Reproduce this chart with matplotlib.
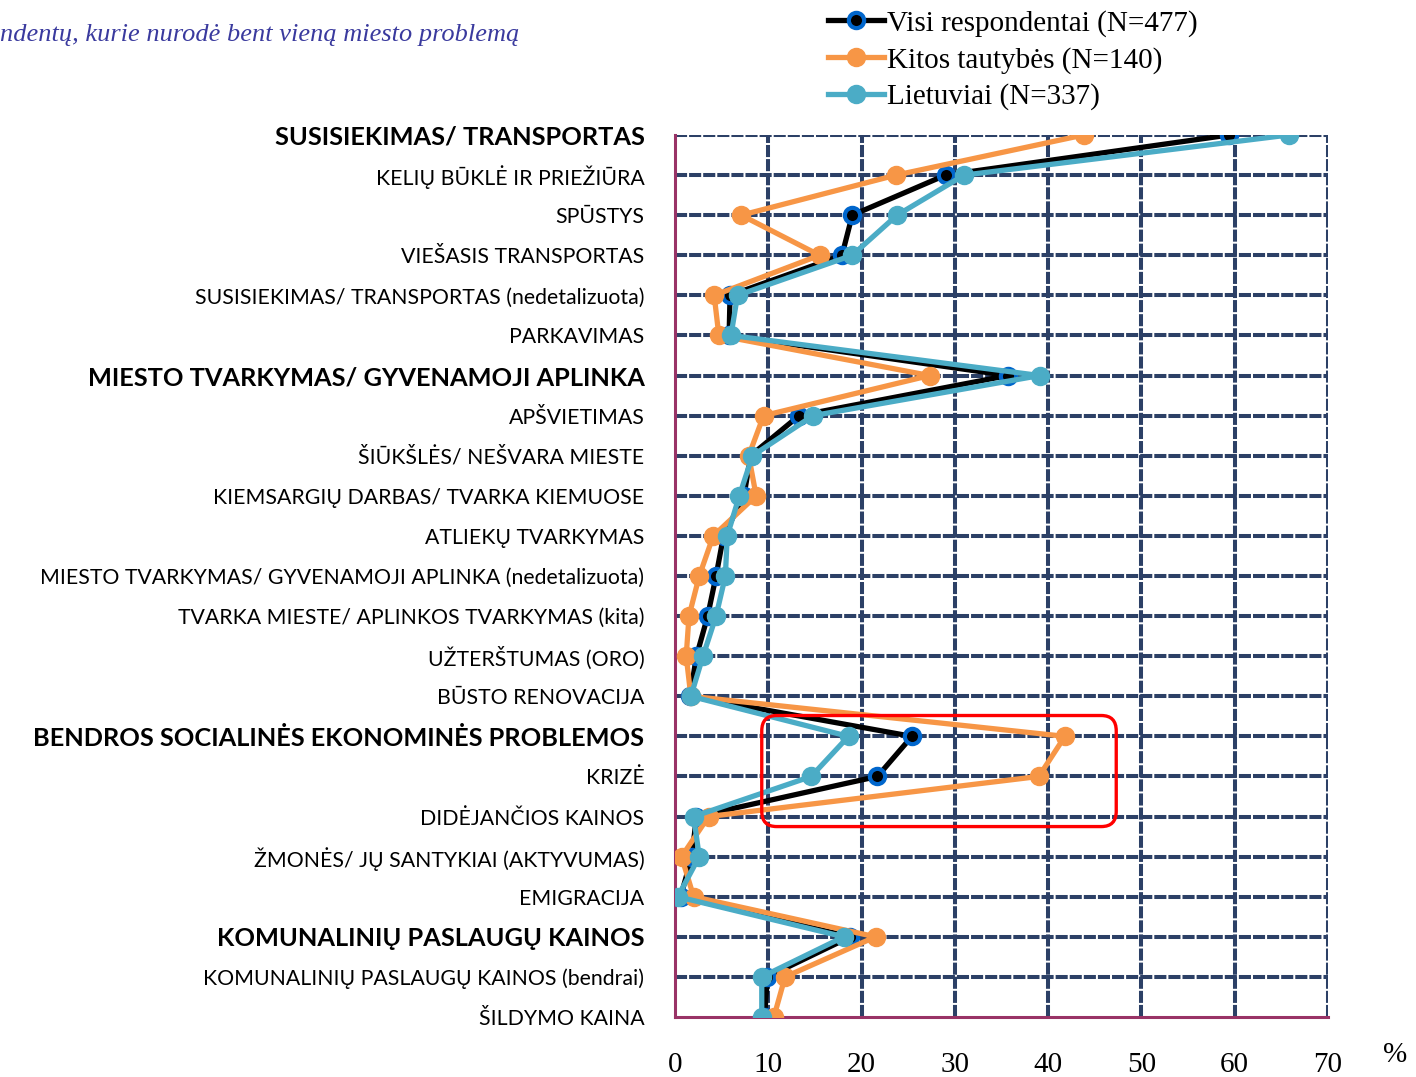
import matplotlib
matplotlib.use("Agg")
import matplotlib.pyplot as plt
from matplotlib.patches import FancyBboxPatch
from matplotlib.lines import Line2D
import numpy as np

categories = [
    "SUSISIEKIMAS/ TRANSPORTAS",
    "KELIŲ BŪKLĖ IR PRIEŽIŪRA",
    "SPŪSTYS",
    "VIEŠASIS TRANSPORTAS",
    "SUSISIEKIMAS/ TRANSPORTAS (nedetalizuota)",
    "PARKAVIMAS",
    "MIESTO TVARKYMAS/ GYVENAMOJI APLINKA",
    "APŠVIETIMAS",
    "ŠIŪKŠLĖS/ NEŠVARA MIESTE",
    "KIEMSARGIŲ DARBAS/ TVARKA KIEMUOSE",
    "ATLIEKŲ TVARKYMAS",
    "MIESTO TVARKYMAS/ GYVENAMOJI APLINKA (nedetalizuota)",
    "TVARKA MIESTE/ APLINKOS TVARKYMAS (kita)",
    "UŽTERŠTUMAS (ORO)",
    "BŪSTO RENOVACIJA",
    "BENDROS SOCIALINĖS EKONOMINĖS PROBLEMOS",
    "KRIZĖ",
    "DIDĖJANČIOS KAINOS",
    "ŽMONĖS/ JŲ SANTYKIAI (AKTYVUMAS)",
    "EMIGRACIJA",
    "KOMUNALINIŲ PASLAUGŲ KAINOS",
    "KOMUNALINIŲ PASLAUGŲ KAINOS (bendrai)",
    "ŠILDYMO KAINA",
]
headings = [0, 6, 15, 20]

visi = [59.4, 29.0, 19.0, 17.9, 5.9, 5.8, 35.7, 13.3, 8.1, 7.4, 5.2, 4.4, 3.5, 2.3,
        1.6, 25.4, 21.7, 2.3, 1.8, 0.6, 18.8, 9.9, 9.6]
kitos = [43.8, 23.7, 7.1, 15.5, 4.2, 4.7, 27.3, 9.5, 7.9, 8.7, 4.1, 2.6, 1.5, 1.2,
         1.7, 41.8, 39.0, 3.6, 0.7, 2.0, 21.5, 11.8, 10.6]
lietuviai = [65.8, 31.0, 23.8, 19.0, 6.7, 6.0, 39.1, 14.8, 8.3, 6.9, 5.6, 5.4, 4.4, 3.0,
             1.7, 18.6, 14.6, 2.0, 2.6, 0.3, 18.1, 9.3, 9.3]

series_names = ["Visi respondentai (N=477)", "Kitos tautybės (N=140)", "Lietuviai (N=337)"]
xticks = [0, 10, 20, 30, 40, 50, 60, 70]

grid_col = "#2C4066"
spine_col = "#993366"
orange = "#F79646"
teal = "#4BACC6"

fig = plt.figure(figsize=(14.16, 10.77), dpi=100)
ax = fig.add_axes([675 / 1416, 1 - 1017 / 1077, (1328 - 675) / 1416, (1017 - 135) / 1077])

y = np.arange(len(categories))

ax.plot(visi, y, color="black", lw=3.8, marker="o", ms=11, mfc="black",
        mec="#0066CC", mew=3.0, zorder=4, label=series_names[0])
ax.plot(kitos, y, color=orange, lw=3.8, marker="o", ms=13, mfc=orange,
        mec=orange, zorder=5, label=series_names[1])
ax.plot(lietuviai, y, color=teal, lw=3.8, marker="o", ms=13, mfc=teal,
        mec=teal, zorder=6, label=series_names[2])

ax.set_xlim(0, 70)
ax.set_ylim(len(categories) - 1, 0)

# grid
for xv in xticks[1:]:
    ax.axvline(xv, color=grid_col, lw=2.9, ls=(0, (3, 0.5)), zorder=1)
for yv in y[:-1]:
    ax.axhline(yv, color=grid_col, lw=2.9, ls=(0, (3, 0.5)), zorder=1)

for s in ["top", "right"]:
    ax.spines[s].set_visible(False)
for s in ["left", "bottom"]:
    ax.spines[s].set_color(spine_col)
    ax.spines[s].set_linewidth(2.2)
    ax.spines[s].set_zorder(2)

ax.set_xticks(xticks)
ax.set_xticklabels([str(v) for v in xticks], family="Liberation Serif", fontsize=21)
ax.tick_params(axis="x", length=0, pad=25)
ax.set_yticks(y)
ax.set_yticklabels(categories, family="Lato")
ax.tick_params(axis="y", length=0, pad=22)
for i, lab in enumerate(ax.get_yticklabels()):
    if i in headings:
        lab.set_fontweight("bold")
        lab.set_fontsize(18.3)
    else:
        lab.set_fontsize(15.3)

fig.text(1395 / 1416, 1 - 1055 / 1077, "%", family="Liberation Serif", fontsize=21,
         ha="center", va="center")

# red highlight box
box = FancyBboxPatch((9.3, 14.48), 38.0, 2.77,
                     boxstyle="round,pad=0,rounding_size=1.6",
                     mutation_aspect=0.24, fill=False, ec="red", lw=2.4,
                     zorder=7, clip_on=False)
ax.add_patch(box)

# title fragment
fig.text(0, 1 - 35 / 1077, "ndentų, kurie nurodė bent vieną miesto problemą",
         family="Liberation Serif", style="italic", fontsize=19, color="#3A3A9E",
         ha="left", va="center")

handles = [
    Line2D([], [], color="black", lw=3.8, marker="o", ms=11, mfc="black", mec="#0066CC", mew=3.0),
    Line2D([], [], color=orange, lw=3.8, marker="o", ms=13, mfc=orange, mec=orange),
    Line2D([], [], color=teal, lw=3.8, marker="o", ms=13, mfc=teal, mec=teal),
]
fig.legend(handles, series_names, loc="upper left", bbox_to_anchor=(802 / 1416, 1.015),
           frameon=False, prop={"family": "Liberation Serif", "size": 21},
           handlelength=1.9, handletextpad=0.1, labelspacing=0.33)

fig.savefig("out.png", dpi=100)
